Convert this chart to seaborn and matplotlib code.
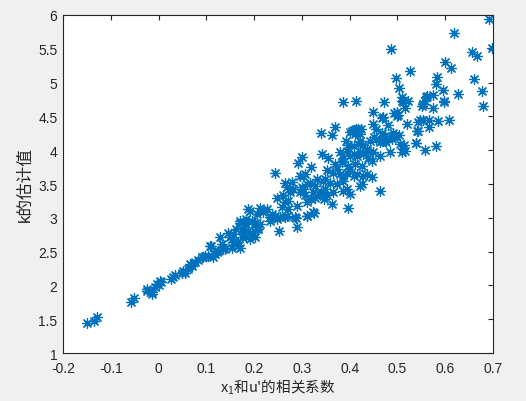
import matplotlib
matplotlib.use("Agg")
import matplotlib.pyplot as plt
import seaborn as sns
from matplotlib.ticker import FuncFormatter

# correlation between x1 and u' (x) and estimated k (y)
corr = [
    0.691, 0.618, 0.486, 0.697, 0.657, 0.667, 0.599, 0.613, 0.526, 0.497,
    0.582, 0.581, 0.661, 0.504, 0.596, 0.677, 0.627, 0.509, 0.387, 0.413,
    0.472, 0.509, 0.523, 0.560, 0.558, 0.575, 0.597, 0.553, 0.680, 0.512,
    0.561, 0.554, 0.551, 0.598, 0.575, 0.516, 0.498, 0.502, 0.547, 0.554,
    0.567, 0.585, 0.608, 0.519, 0.544, 0.567, 0.541, 0.491, 0.493, 0.504,
    0.488, 0.539, 0.581, 0.558, 0.505, 0.514, 0.512, 0.516, 0.509, 0.484,
    0.449, 0.468, 0.370, 0.340, 0.364, 0.448, 0.481, 0.408, 0.418, 0.401,
    0.411, 0.421, 0.451, 0.456, 0.467, 0.477, 0.488, 0.542, 0.392, 0.397,
    0.408, 0.418, 0.428, 0.436, 0.538, 0.300, 0.343, 0.355, 0.387, 0.401,
    0.415, 0.428, 0.449, 0.439, 0.469, 0.493, 0.498, 0.404, 0.413, 0.423,
    0.456, 0.467, 0.474, 0.495, 0.442, 0.463, 0.474, 0.422, 0.320, 0.380,
    0.394, 0.408, 0.422, 0.436, 0.463, 0.446, 0.369, 0.383, 0.397, 0.411,
    0.425, 0.352, 0.366, 0.380, 0.394, 0.408, 0.436, 0.446, 0.331, 0.345,
    0.359, 0.373, 0.387, 0.310, 0.303, 0.324, 0.338, 0.366, 0.394, 0.422,
    0.463, 0.401, 0.397, 0.362, 0.346, 0.352, 0.325, 0.311, 0.289, 0.288,
    0.253, 0.244, 0.291, 0.265, 0.279, 0.268, 0.303, 0.317, 0.327, 0.373,
    0.387, 0.401, 0.415, 0.428, 0.425, 0.275, 0.296, 0.306, 0.247, 0.261,
    0.265, 0.271, 0.258, 0.289, 0.327, 0.341, 0.348, 0.387, 0.212, 0.226,
    0.219, 0.205, 0.233, 0.244, 0.254, 0.268, 0.191, 0.195, 0.202, 0.205,
    0.198, 0.191, 0.296, 0.306, 0.282, 0.300, 0.348, 0.338, 0.271, 0.310,
    0.320, 0.324, 0.310, 0.188, 0.237, 0.170, 0.184, 0.212, 0.233, 0.247,
    0.265, 0.285, 0.163, 0.177, 0.156, 0.174, 0.167, 0.153, 0.156, 0.170,
    0.184, 0.202, 0.174, 0.188, 0.209, 0.184, 0.195, 0.146, 0.149, 0.167,
    0.128, 0.132, 0.135, 0.125, 0.153, 0.170, 0.107, 0.118, 0.114, 0.097,
    0.090, 0.104, 0.083, 0.076, 0.066, 0.062, 0.052, 0.048, 0.069, 0.031,
    0.027, 0.006, 0.000, -0.004, 0.003, -0.008, -0.025, -0.014, -0.149, -0.135,
    -0.128, -0.058, -0.051, -0.024, -0.014, 0.034, 0.055, 0.067, 0.094, 0.109,
    0.122, 0.139, 0.202, 0.209,
]
k_est = [
    5.94, 5.74, 5.50, 5.51, 5.45, 5.39, 5.31, 5.22, 5.17, 5.07,
    5.09, 4.98, 5.05, 4.92, 4.89, 4.87, 4.83, 4.79, 4.71, 4.73,
    4.72, 4.73, 4.73, 4.79, 4.73, 4.82, 4.73, 4.69, 4.66, 4.72,
    4.80, 4.68, 4.65, 4.71, 4.62, 4.62, 4.56, 4.52, 4.45, 4.44,
    4.44, 4.43, 4.45, 4.39, 4.41, 4.34, 4.28, 4.26, 4.21, 4.22,
    4.17, 4.11, 4.06, 4.01, 4.09, 4.08, 4.02, 3.99, 3.98, 3.98,
    4.56, 4.47, 4.34, 4.25, 4.22, 4.39, 4.37, 4.30, 4.32, 4.27,
    4.24, 4.24, 4.19, 4.17, 4.14, 4.12, 4.21, 4.29, 4.14, 4.07,
    4.06, 4.09, 4.07, 4.02, 4.10, 3.90, 3.94, 3.89, 3.89, 3.92,
    3.92, 3.94, 3.97, 3.89, 4.49, 4.55, 4.51, 4.29, 4.31, 4.32,
    4.31, 4.26, 4.21, 4.22, 4.14, 4.12, 4.14, 4.13, 3.75, 3.97,
    3.99, 3.94, 3.97, 3.99, 3.92, 3.84, 3.80, 3.82, 3.77, 3.80,
    3.77, 3.70, 3.67, 3.65, 3.67, 3.62, 3.65, 3.60, 3.57, 3.55,
    3.52, 3.50, 3.55, 3.50, 3.43, 3.38, 3.35, 3.38, 3.43, 3.47,
    3.40, 3.35, 3.14, 3.21, 3.28, 3.33, 3.07, 3.02, 2.87, 2.99,
    2.80, 3.66, 3.81, 3.52, 3.53, 3.45, 3.62, 3.52, 3.47, 3.72,
    3.62, 3.72, 3.65, 3.62, 3.50, 3.38, 3.38, 3.33, 3.30, 3.33,
    3.23, 3.13, 3.16, 3.18, 3.30, 3.38, 3.43, 3.40, 3.14, 3.13,
    3.08, 3.06, 3.01, 3.03, 3.01, 3.03, 3.10, 2.96, 2.91, 2.83,
    2.74, 2.69, 3.62, 3.65, 3.43, 3.45, 3.57, 3.33, 3.25, 3.23,
    3.28, 3.08, 3.03, 3.13, 3.06, 2.96, 2.98, 2.91, 2.96, 2.98,
    3.01, 3.01, 2.83, 2.81, 2.76, 2.71, 2.59, 2.69, 2.64, 2.93,
    2.91, 2.93, 2.83, 2.81, 2.86, 2.71, 2.74, 2.78, 2.71, 2.64,
    2.71, 2.61, 2.54, 2.51, 2.56, 2.56, 2.59, 2.46, 2.42, 2.44,
    2.42, 2.44, 2.37, 2.34, 2.32, 2.25, 2.22, 2.19, 2.29, 2.12,
    2.09, 2.05, 2.00, 2.02, 2.07, 1.97, 1.95, 1.90, 1.45, 1.47,
    1.53, 1.76, 1.81, 1.92, 1.88, 2.15, 2.19, 2.30, 2.42, 2.58,
    2.49, 2.54, 2.71, 2.83,
]

x_ticks = [-0.2, -0.1, 0, 0.1, 0.2, 0.3, 0.4, 0.5, 0.6, 0.7]
y_ticks = [1, 1.5, 2, 2.5, 3, 3.5, 4, 4.5, 5, 5.5, 6]

sns.set_style("white")
plt.rcParams['font.family'] = ['Liberation Sans', 'Noto Sans CJK SC', 'DejaVu Sans']
plt.rcParams['mathtext.default'] = 'regular'

fig = plt.figure(figsize=(5.26, 4.02), dpi=100, facecolor='#f0f0f0')
ax = fig.add_axes([0.1198, 0.1194, 0.8175, 0.8408])
ax.set_facecolor('white')

sns.scatterplot(x=corr, y=k_est, ax=ax, marker=(8, 2, 0), s=52,
                color='#0072BD', edgecolor='#0072BD', linewidth=0.9)

ax.set_xlim(-0.2, 0.7)
ax.set_ylim(1, 6)
ax.set_xticks(x_ticks)
ax.set_yticks(y_ticks)
fmt = FuncFormatter(lambda v, p: '{:g}'.format(round(v, 2)))
ax.xaxis.set_major_formatter(fmt)
ax.yaxis.set_major_formatter(fmt)
ax.tick_params(direction='in', top=True, right=True, length=3.5, width=0.8,
               color='#262626', labelcolor='#262626', labelsize=10)
ax.tick_params(axis='x', pad=6)
ax.tick_params(axis='y', pad=4)
for sp in ax.spines.values():
    sp.set_visible(True)
    sp.set_color('#262626')
    sp.set_linewidth(0.8)

# whole label in the CJK family so mathtext can draw the Chinese part too
ax.set_xlabel("$x_1$和u'的相关系数", fontsize=10.5, color='#262626', labelpad=1,
              family='Noto Sans CJK SC')
ax.set_ylabel("k的估计值", fontsize=12, color='#262626', labelpad=4)

fig.savefig("out.png", dpi=100, facecolor=fig.get_facecolor())
